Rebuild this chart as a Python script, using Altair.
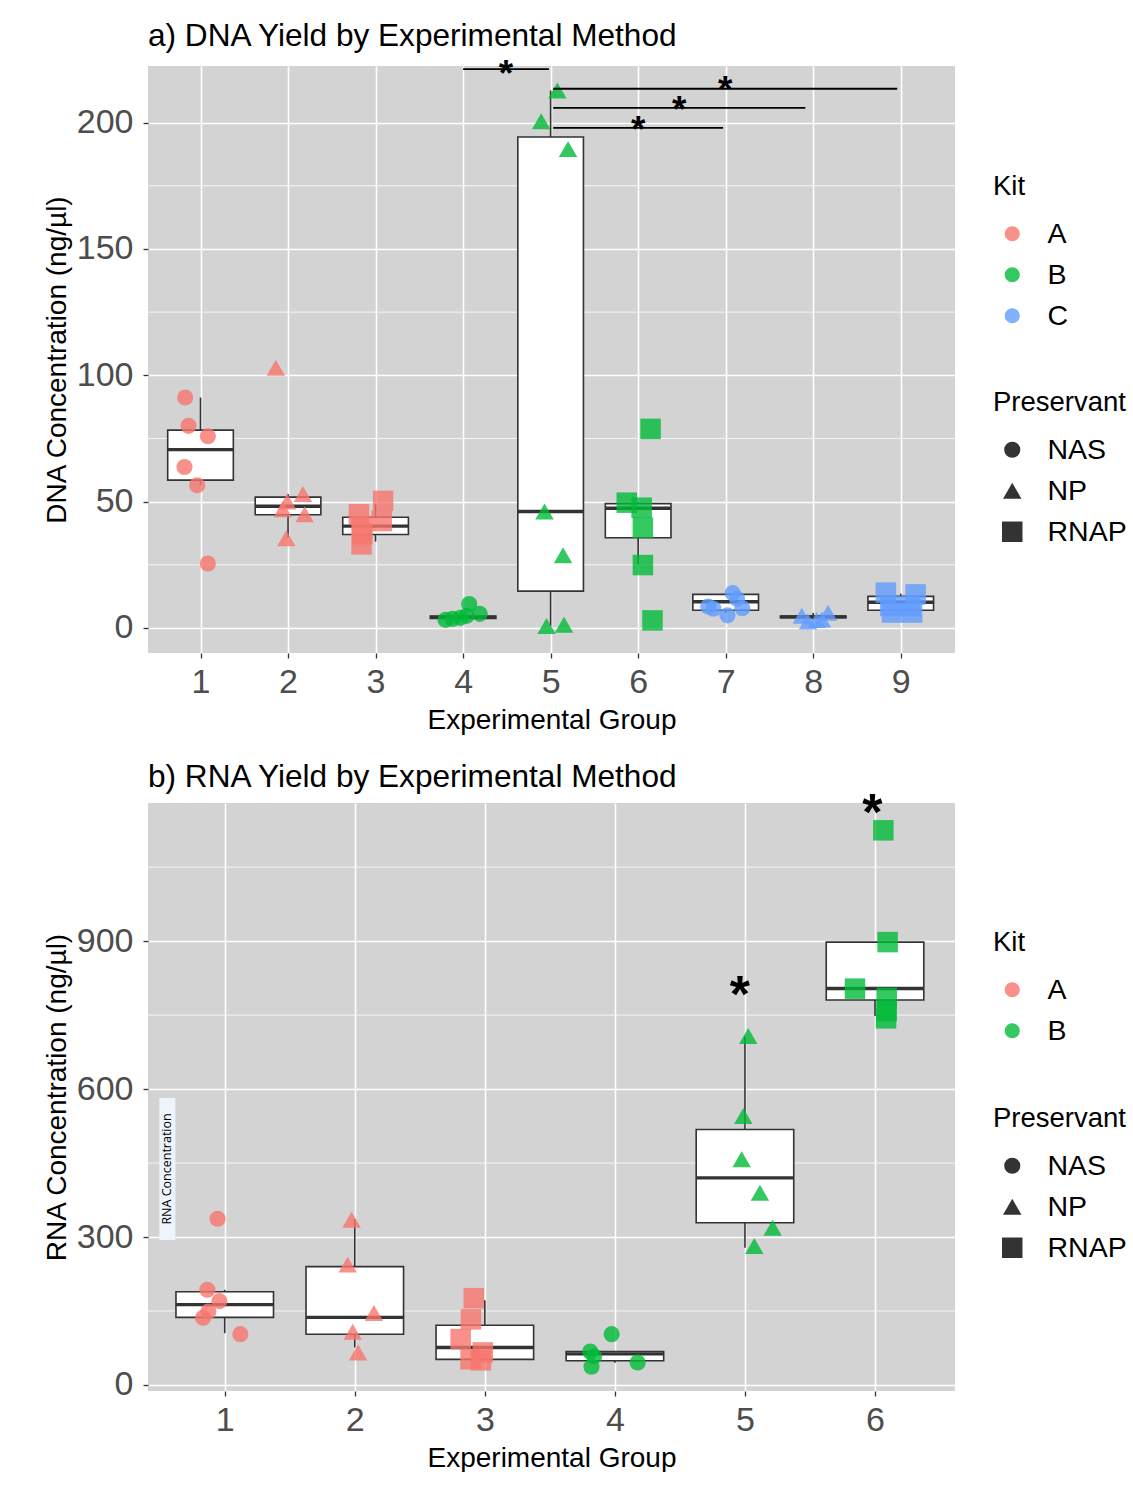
import altair as alt
import pandas as pd

FONT = "Liberation Sans"
KITS = ["A", "B", "C"]
KIT_COLORS = ["#F8766D", "#00BA38", "#619CFF"]
PRESERVANTS = ["NAS", "NP", "RNAP"]
SHAPES = ["circle", "triangle-up", "square"]
SHAPE_SIZES = [260, 420, 270]

# ---------------- panel a: DNA ----------------
dna_groups = [1, 2, 3, 4, 5, 6, 7, 8, 9]
dna_kit = ["A", "A", "A", "B", "B", "B", "C", "C", "C"]
dna_pres = ["NAS", "NP", "RNAP", "NAS", "NP", "RNAP", "NAS", "NP", "RNAP"]
dna_values = [
    [91.2, 80.0, 75.9, 63.7, 56.5, 25.5],
    [103.0, 53.0, 50.0, 47.0, 45.0, 35.5],
    [50.3, 45.0, 42.3, 40.4, 37.1, 33.1],
    [3.2, 3.6, 4.0, 4.8, 9.5, 5.6],
    [212.7, 200.5, 189.5, 46.1, 28.8, 0.8, 1.3],
    [78.8, 49.6, 47.6, 39.7, 24.9, 3.0],
    [13.8, 11.5, 7.8, 7.6, 5.0, 8.5],
    [4.8, 6.0, 3.2, 2.6, 3.4],
    [14.0, 13.3, 8.7, 8.7, 6.1, 6.1],
]
dna_jitter = [
    [-0.175, -0.137, 0.084, -0.183, -0.038, 0.084],
    [-0.14, 0.17, -0.01, -0.06, 0.19, -0.02],
    [0.086, -0.19, 0.07, -0.16, -0.15, -0.16],
    [-0.2, -0.12, -0.03, 0.04, 0.07, 0.19],
    [0.077, -0.108, 0.199, -0.07, 0.142, -0.047, 0.153],
    [0.142, -0.13, 0.04, 0.054, 0.054, 0.164],
    [0.08, 0.13, 0.19, -0.14, 0.02, -0.2],
    [-0.13, 0.17, 0.04, -0.06, 0.1],
    [-0.17, 0.17, -0.12, 0.11, -0.1, 0.13],
]
dna_q1 = [58.5, 44.8, 37.0, 3.8, 14.6, 35.7, 7.0, 4.1, 7.0]
dna_median = [70.6, 48.2, 40.3, 4.2, 46.1, 47.4, 10.4, 4.4, 10.2]
dna_q3 = [78.3, 51.8, 43.8, 4.7, 194.3, 49.2, 13.3, 4.7, 12.5]
dna_lo = [56.5, 35.7, 34.2, 3.2, 0.8, 25.2, 6.0, 3.2, 6.1]
dna_hi = [91.2, 53.0, 49.0, 5.6, 212.7, 49.6, 13.8, 6.0, 13.6]
dna_yticks = [0, 50, 100, 150, 200]
dna_yminor = [25, 75, 125, 175]
dna_sig_x1 = [4.0, 5.03, 5.03, 5.03]
dna_sig_x2 = [4.98, 8.96, 7.91, 6.97]
dna_sig_y = [221.2, 213.4, 205.8, 197.9]
dna_star_y = [223.0, 216.5, 208.8, 200.6]

# ---------------- panel b: RNA ----------------
rna_groups = [1, 2, 3, 4, 5, 6]
rna_kit = ["A", "A", "A", "B", "B", "B"]
rna_pres = ["NAS", "NP", "RNAP", "NAS", "NP", "RNAP"]
rna_values = [
    [337, 193, 170, 149, 136, 103],
    [335, 244, 146, 108, 66],
    [176, 133, 93, 66, 52, 50],
    [103, 68, 58, 37, 45.5],
    [707.5, 545.3, 457.5, 389.9, 319, 281.8],
    [1124.6, 898, 803.6, 785, 758, 743.3],
]
rna_jitter = [
    [-0.055, -0.134, -0.041, -0.126, -0.167, 0.12],
    [-0.025, -0.055, 0.147, -0.016, 0.025],
    [-0.085, -0.107, -0.186, -0.016, -0.11, -0.03],
    [-0.025, -0.19, -0.16, -0.18, 0.175],
    [0.025, -0.013, -0.025, 0.115, 0.213, 0.072],
    [0.064, 0.097, -0.154, 0.09, 0.09, 0.085],
]
rna_q1 = [137, 103, 52, 49, 329, 780.5]
rna_median = [163, 137, 76, 63, 420, 804]
rna_q3 = [189, 240, 121, 68, 518, 898]
rna_lo = [105, 76, 52, 45, 278, 748]
rna_hi = [193, 337, 172, 68, 707, 898]
rna_yticks = [0, 300, 600, 900]
rna_yminor = [150, 450, 750, 1050]
rna_star_group = [4.96, 5.98]
rna_star_y = [817.5, 1187.5]
note_text = "RNA Concentration"
note_x = [0.497, 0.621]
note_y = [294, 582]

BOX_HALF = 0.375


def points_frame(groups, kits, pres, values, jitter):
    rows = []
    for g, k, p, vals, jits in zip(groups, kits, pres, values, jitter):
        for v, j in zip(vals, jits):
            rows.append({"group": g, "x": g + j, "value": v, "Kit": k, "Preservant": p})
    return pd.DataFrame(rows)


def box_frame(groups, q1, med, q3, lo, hi):
    return pd.DataFrame({
        "group": groups,
        "xl": [g - BOX_HALF for g in groups],
        "xr": [g + BOX_HALF for g in groups],
        "q1": q1, "median": med, "q3": q3, "lo": lo, "hi": hi,
    })


def panel(title, ytitle, pts, boxes, xdomain, ydomain, xticks, yticks, yminor,
          kits, sig, stars, kit_y, pres_y, title_offset, note=None):
    xs = alt.Scale(domain=xdomain, nice=False, zero=False)
    ys = alt.Scale(domain=ydomain, nice=False, zero=False)
    xax = alt.Axis(values=xticks, format="d", title="Experimental Group",
                   labelFontSize=34, titleFontSize=28, labelPadding=7,
                   titlePadding=7, tickSize=5)
    yax = alt.Axis(values=yticks, format="d", title=ytitle,
                   labelFontSize=34, titleFontSize=28, labelPadding=10,
                   titlePadding=5, tickSize=5)
    X = lambda f: alt.X(f, type="quantitative", scale=xs, axis=xax)
    Y = lambda f: alt.Y(f, type="quantitative", scale=ys, axis=yax)

    minor = alt.Chart(pd.DataFrame({"v": yminor})).mark_rule(
        color="white", strokeWidth=0.8).encode(y=Y("v"))
    base = alt.Chart(boxes)
    rect = base.mark_rect(fill="white", stroke="#333333", strokeWidth=1.6).encode(
        x=X("xl"), x2="xr", y=Y("q1"), y2="q3")
    wh_hi = base.mark_rule(color="#333333", strokeWidth=1.6).encode(
        x=X("group"), y=Y("q3"), y2="hi")
    wh_lo = base.mark_rule(color="#333333", strokeWidth=1.6).encode(
        x=X("group"), y=Y("lo"), y2="q1")
    med = base.mark_rule(color="#333333", strokeWidth=3.4).encode(
        x=X("xl"), x2="xr", y=Y("median"))

    legend_common = dict(orient="none", legendX=845, titleFontSize=27.5,
                         labelFontSize=28.5, titleFont=FONT, labelFont=FONT,
                         titleColor="black", labelColor="black",
                         titleFontWeight="normal", padding=0, titlePadding=19,
                         rowPadding=12, symbolOffset=5, labelOffset=21)
    kit_colors = KIT_COLORS[:len(kits)]
    pres_legend = alt.Legend(title="Preservant", legendY=pres_y,
                             symbolFillColor="#333333", symbolStrokeWidth=0,
                             symbolOpacity=1, **legend_common)
    points = alt.Chart(pts).mark_point(filled=True, opacity=0.8, strokeWidth=0).encode(
        x=X("x"), y=Y("value"),
        color=alt.Color("Kit:N", scale=alt.Scale(domain=kits, range=kit_colors),
                        legend=alt.Legend(title="Kit", legendY=kit_y, symbolType="circle",
                                          symbolSize=230, symbolOpacity=0.8,
                                          symbolStrokeWidth=0, **legend_common)),
        shape=alt.Shape("Preservant:N", scale=alt.Scale(domain=PRESERVANTS, range=SHAPES),
                        legend=pres_legend),
        size=alt.Size("Preservant:N", scale=alt.Scale(domain=PRESERVANTS, range=SHAPE_SIZES),
                      legend=pres_legend),
    )
    layers = [minor]
    if note is not None:
        nd = pd.DataFrame({"x1": [note["x"][0]], "x2": [note["x"][1]],
                           "y1": [note["y"][0]], "y2": [note["y"][1]],
                           "xm": [(note["x"][0] + note["x"][1]) / 2],
                           "ym": [(note["y"][0] + note["y"][1]) / 2],
                           "t": [note["text"]]})
        layers.append(alt.Chart(nd).mark_rect(fill="#EEF4FB").encode(
            x=X("x1"), x2="x2", y=Y("y1"), y2="y2"))
        layers.append(alt.Chart(nd).mark_text(angle=270, fontSize=12.5, font="Open Sans",
                                              color="black", baseline="middle",
                                              align="center").encode(
            x=X("xm"), y=Y("ym"), text="t:N"))
    layers += [rect, wh_hi, wh_lo, med, points]
    if sig is not None:
        layers.append(alt.Chart(sig).mark_rule(color="black", strokeWidth=1.8).encode(
            x=X("x1"), x2="x2", y=Y("y")))
    fs = stars["fs"]
    layers.append(alt.Chart(stars["df"]).mark_text(
        text="*", fontSize=fs, fontWeight="bold", dy=0.28 * fs, baseline="middle",
        align="center", color="black", font=FONT).encode(x=X("x"), y=Y("y")))

    return alt.layer(*layers).properties(
        width=807, height=587,
        title=alt.TitleParams(title, anchor="start", frame="group", fontSize=31.6,
                              font=FONT, fontWeight="normal", color="black",
                              offset=title_offset),
    )


dna_pts = points_frame(dna_groups, dna_kit, dna_pres, dna_values, dna_jitter)
dna_box = box_frame(dna_groups, dna_q1, dna_median, dna_q3, dna_lo, dna_hi)
dna_sig = pd.DataFrame({"x1": dna_sig_x1, "x2": dna_sig_x2, "y": dna_sig_y})
dna_stars = pd.DataFrame({"x": [(a + b) / 2 for a, b in zip(dna_sig_x1, dna_sig_x2)],
                          "y": dna_star_y})

rna_pts = points_frame(rna_groups, rna_kit, rna_pres, rna_values, rna_jitter)
rna_box = box_frame(rna_groups, rna_q1, rna_median, rna_q3, rna_lo, rna_hi)
rna_stars = pd.DataFrame({"x": rna_star_group, "y": rna_star_y})

top = panel("a) DNA Yield by Experimental Method", "DNA Concentration (ng/µl)",
            dna_pts, dna_box, [0.4, 9.62], [-9.9, 222.4], dna_groups, dna_yticks,
            dna_yminor, ["A", "B", "C"], dna_sig, {"df": dna_stars, "fs": 37},
            kit_y=107, pres_y=323, title_offset=3.6)
bottom = panel("b) RNA Yield by Experimental Method", "RNA Concentration (ng/µl)",
               rna_pts, rna_box, [0.41, 6.615], [-12.2, 1180], rna_groups, rna_yticks,
               rna_yminor, ["A", "B"], None, {"df": rna_stars, "fs": 52},
               kit_y=126, pres_y=302, title_offset=-6,
               note={"x": note_x, "y": note_y, "text": note_text}).properties(height=588)

chart = alt.vconcat(top, bottom, spacing=28).resolve_scale(
    x="independent", y="independent", color="independent",
    shape="independent", size="independent"
).resolve_legend(color="independent", shape="independent", size="independent").properties(
    padding={"left": 43, "top": 20, "right": 0, "bottom": 0}
).configure(font=FONT).configure_view(fill="#D3D3D3", stroke=None).configure_axis(
    labelFont=FONT, titleFont=FONT, labelColor="#4D4D4D", titleColor="black",
    titleFontWeight="normal", domain=False, grid=True, gridColor="white",
    gridWidth=1.6, tickColor="#333333", tickWidth=1.3, labelFlush=False
).configure_legend(symbolStrokeWidth=0)

chart.save("out.html", embed_options={"renderer": "svg", "actions": False})
